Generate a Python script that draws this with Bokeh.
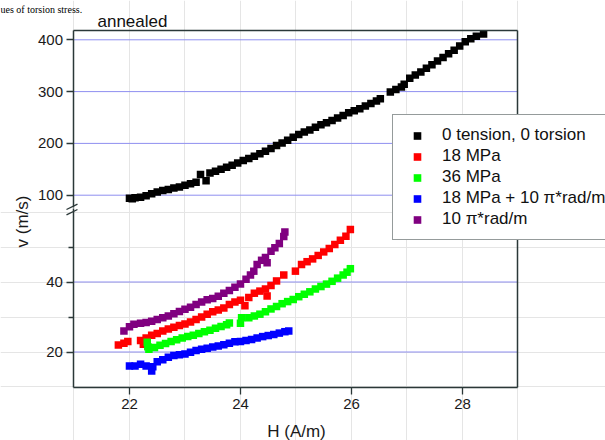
import math
from bokeh.plotting import figure
from bokeh.models import Range1d, LinearAxis, FixedTicker, Legend, LegendItem, Label, Arrow
from bokeh.embed import file_html
from bokeh.resources import INLINE

# ---------------- data ----------------
black_x = [22.0, 22.05, 22.1, 22.2, 22.3, 22.4, 22.5, 22.6, 22.7, 22.8, 22.9, 23.0,
           23.1, 23.2, 23.28, 23.38, 23.45, 23.55, 23.65, 23.75, 23.85, 23.95, 24.05,
           24.15, 24.25, 24.35, 24.45, 24.55, 24.65, 24.75, 24.85, 24.95, 25.05, 25.15,
           25.25, 25.35, 25.45, 25.55, 25.65, 25.75, 25.85, 25.95, 26.05, 26.15, 26.25,
           26.35, 26.45, 26.52, 26.7, 26.8, 26.9, 26.95, 27.05, 27.15, 27.25, 27.35,
           27.45, 27.55, 27.65, 27.75, 27.85, 27.95, 28.05, 28.15, 28.25, 28.38]
black_y = [94, 93, 95, 96, 99, 103, 106, 109, 111, 114, 116, 119,
           122, 125, 140, 128, 143, 146, 150, 154, 158, 162, 167,
           171, 175, 180, 185, 190, 196, 201, 206, 212, 217, 222,
           226, 231, 236, 240, 244, 249, 254, 259, 263, 267, 272,
           277, 282, 286, 299, 304, 309, 314, 326, 332, 338, 345,
           352, 359, 366, 373, 380, 388, 396, 402, 407, 411]

red_x = [21.8, 21.9, 21.97, 22.2, 22.25, 22.3, 22.4, 22.5, 22.6, 22.7, 22.8, 22.9, 23.0,
         23.1, 23.2, 23.3, 23.4, 23.5, 23.6, 23.7, 23.8, 23.9, 24.0, 24.08,
         24.15, 24.25, 24.35, 24.45, 24.48, 24.55, 24.65, 24.78, 24.99, 25.1,
         25.2, 25.3, 25.4, 25.5, 25.6, 25.7, 25.8, 25.9, 25.98]
red_y = [22.0, 22.5, 23.0, 23.3, 22.2, 24.0, 24.8, 25.3, 26.0, 26.6, 27.1, 27.6, 28.0,
         28.6, 29.3, 30.0, 30.8, 31.5, 32.0, 32.6, 33.6, 34.3, 34.8, 33.2,
         35.6, 36.8, 37.4, 38.0, 36.0, 39.0, 40.3, 42.0, 43.1, 45.0,
         45.8, 46.6, 47.6, 48.6, 49.6, 50.7, 51.9, 53.1, 55.0]

green_x = [22.32, 22.33, 22.35, 22.45, 22.55, 22.65, 22.75, 22.85, 22.95, 23.05, 23.15,
           23.25, 23.35, 23.45, 23.55, 23.65, 23.75, 23.8, 24.0, 24.02, 24.15, 24.25,
           24.35, 24.45, 24.55, 24.65, 24.75, 24.85, 24.95, 25.05, 25.15, 25.25,
           25.35, 25.45, 25.55, 25.65, 25.75, 25.85, 25.92, 25.98]
green_y = [22.8, 21.5, 20.8, 21.3, 21.9, 22.4, 23.0, 23.5, 24.0, 24.4, 24.8,
           25.3, 25.8, 26.2, 26.8, 27.3, 27.8, 28.3, 28.2, 29.8, 29.8, 30.3,
           30.8, 31.5, 32.3, 33.0, 33.8, 34.4, 35.0, 35.8, 36.5, 37.2,
           38.0, 38.7, 39.4, 40.2, 41.1, 42.0, 42.8, 43.8]

blue_x = [22.0, 22.1, 22.2, 22.3, 22.4, 22.42, 22.5, 22.6, 22.7, 22.8, 22.9, 23.0,
          23.1, 23.2, 23.3, 23.4, 23.5, 23.6, 23.7, 23.8, 23.9, 24.0, 24.1, 24.2,
          24.3, 24.4, 24.5, 24.6, 24.7, 24.8, 24.87]
blue_y = [16.0, 16.0, 16.5, 16.0, 14.6, 15.8, 17.2, 17.8, 18.5, 19.0, 19.2, 19.4,
          19.9, 20.4, 20.8, 21.1, 21.4, 21.7, 22.1, 22.5, 22.9, 23.0, 23.3, 23.6,
          24.0, 24.4, 24.7, 25.0, 25.4, 25.8, 26.0]

purple_x = [21.9, 22.0, 22.08, 22.2, 22.3, 22.4, 22.5, 22.6, 22.7, 22.8, 22.9, 23.0,
            23.1, 23.2, 23.3, 23.4, 23.5, 23.6, 23.7, 23.8, 23.9, 24.0, 24.1, 24.18,
            24.24, 24.3, 24.38, 24.45, 24.48, 24.55, 24.62, 24.7, 24.78, 24.8]
purple_y = [26.0, 27.2, 27.9, 28.2, 28.4, 28.8, 29.3, 29.8, 30.3, 30.9, 31.6, 32.2,
            32.8, 33.6, 34.3, 34.9, 35.3, 35.9, 36.8, 37.6, 38.5, 39.4, 40.8, 42.0,
            43.1, 45.0, 46.2, 47.0, 45.5, 48.8, 49.8, 51.0, 53.0, 54.3]

series_labels = ["0 tension, 0 torsion", "18 MPa", "36 MPa",
                 "18 MPa + 10 \u03c0*rad/m", "10 \u03c0*rad/m"]
series_colors = ["#000000", "#ff0000", "#00ff00", "#0000ff", "#800080"]

x_ticks = [22, 24, 26, 28]
upper_ticks = [100, 200, 300, 400]
lower_ticks = [20, 40]
lower_minor_ticks = [30, 50]

# plot box: x 21..29, lower part from 9.857 up to the break (61),
# upper part from the break (75.5) up to 418
X_BOX = (21, 29)
LOWER_BOX = (9.857, 61)
UPPER_BOX = (75.5, 418)
UPPER_BOX_BOTTOM = -271.2   # box bottom expressed in upper units

# ranges spanning the whole canvas
X_RANGE = (19.676, 30.577)
LOWER_RANGE = (-5.286, 120.43)
UPPER_RANGE = (-373.55, 475.87)

# ---------------- styling ----------------
W, H = 605, 440
AXIS_COLOR = "#2b3838"
GRID_COLOR = "#8f8ff0"
FONT = "Liberation Sans"
TICK_SIZE = "15px"
LABEL_SIZE = "17px"
TEXT_COLOR = "#1a1a1a"

p = figure(width=W, height=H, output_backend="svg", toolbar_location=None,
           x_range=Range1d(*X_RANGE), y_range=Range1d(*LOWER_RANGE),
           x_axis_location=None, y_axis_location=None,
           min_border_left=0, min_border_right=0, min_border_top=0,
           min_border_bottom=0,
           background_fill_color="white", border_fill_color="white",
           outline_line_color=None)
p.extra_y_ranges = {"upper": Range1d(*UPPER_RANGE)}


def make_axis(**kw):
    ax = LinearAxis(**kw)
    ax.axis_line_color = AXIS_COLOR
    ax.axis_line_width = 1.5
    ax.major_tick_line_color = AXIS_COLOR
    ax.minor_tick_line_color = AXIS_COLOR
    ax.major_tick_line_width = 1.3
    ax.minor_tick_line_width = 1.3
    ax.major_tick_in = 0
    ax.major_tick_out = 7
    ax.minor_tick_in = 0
    ax.minor_tick_out = 5
    ax.major_label_text_font = FONT
    ax.major_label_text_font_size = TICK_SIZE
    ax.major_label_text_color = TEXT_COLOR
    ax.major_label_standoff = 4
    return ax


# x axis at the bottom of the plot box
xa = make_axis(fixed_location=LOWER_BOX[0], bounds=X_BOX,
               ticker=FixedTicker(ticks=x_ticks, minor_ticks=[]))
p.add_layout(xa, "below")

# lower and upper y axes at x = 21
la = make_axis(fixed_location=X_BOX[0], bounds=LOWER_BOX,
               ticker=FixedTicker(ticks=lower_ticks, minor_ticks=lower_minor_ticks))
p.add_layout(la, "left")
ua = make_axis(y_range_name="upper", fixed_location=X_BOX[0], bounds=UPPER_BOX,
               ticker=FixedTicker(ticks=upper_ticks, minor_ticks=[]))
p.add_layout(ua, "left")

# top and right border lines
ta = make_axis(y_range_name="upper", fixed_location=UPPER_BOX[1], bounds=X_BOX,
               ticker=FixedTicker(ticks=[], minor_ticks=[]))
p.add_layout(ta, "above")
ra = make_axis(y_range_name="upper", fixed_location=X_BOX[1],
               bounds=(UPPER_BOX_BOTTOM, UPPER_BOX[1]),
               ticker=FixedTicker(ticks=[], minor_ticks=[]))
p.add_layout(ra, "right")

# grid lines inside the plot box
p.segment(x0=X_BOX[0], x1=X_BOX[1], y0=upper_ticks, y1=upper_ticks,
          y_range_name="upper", line_color=GRID_COLOR, line_width=1)
p.segment(x0=X_BOX[0], x1=X_BOX[1], y0=lower_ticks, y1=lower_ticks,
          line_color=GRID_COLOR, line_width=1)

# data
xs = [black_x, red_x, green_x, blue_x, purple_x]
ys = [black_y, red_y, green_y, blue_y, purple_y]
renderers = []
for i, (sx, sy) in enumerate(zip(xs, ys)):
    kw = {"y_range_name": "upper"} if i == 0 else {}
    r = p.scatter(sx, sy, marker="square", size=7.5, fill_color=series_colors[i],
                  line_color=None, **kw)
    renderers.append(r)

legend = Legend(items=[LegendItem(label=l, renderers=[r])
                       for l, r in zip(series_labels, renderers)],
                location=(392, 200), margin=0, padding=10, spacing=1,
                glyph_width=28, glyph_height=19, label_height=19,
                label_standoff=11, label_text_font=FONT,
                label_text_font_size=LABEL_SIZE, label_text_color="#111111",
                border_line_color=AXIS_COLOR, border_line_width=1,
                background_fill_color="white", background_fill_alpha=1)
p.add_layout(legend)

# axis break marks
for y0 in (231.0, 225.7):
    p.add_layout(Arrow(end=None, x_start=66, y_start=y0, x_end=77, y_end=y0 + 5.3,
                       start_units="screen", end_units="screen",
                       line_color=AXIS_COLOR, line_width=1.3))

# axis titles, plot title and page text
p.add_layout(Label(x=296, y=H - 431, x_units="screen", y_units="screen",
                   text="H (A/m)", text_font=FONT, text_font_size=LABEL_SIZE,
                   text_color=TEXT_COLOR, text_align="center", text_baseline="middle"))
p.add_layout(Label(x=22, y=H - 221, x_units="screen", y_units="screen",
                   text="v (m/s)", text_font=FONT, text_font_size=LABEL_SIZE,
                   text_color=TEXT_COLOR, text_align="center", text_baseline="middle",
                   angle=math.pi / 2))
p.add_layout(Label(x=97, y=H - 20.7, x_units="screen", y_units="screen", text="annealed",
                   text_font=FONT, text_font_size=LABEL_SIZE, text_color="#111111",
                   text_baseline="alphabetic"))
p.add_layout(Label(x=0, y=H - 9, x_units="screen", y_units="screen",
                   text="ues of torsion stress.", text_font="Liberation Serif",
                   text_font_size="10px", text_color="#000000",
                   text_baseline="alphabetic"))

open("out.html", "w").write(file_html(p, INLINE))
